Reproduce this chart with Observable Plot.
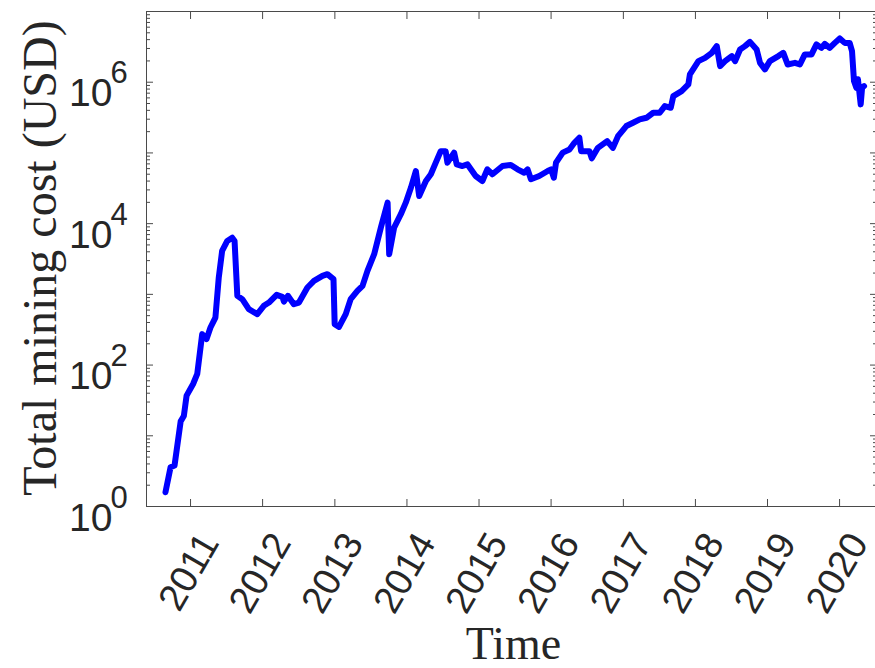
<!DOCTYPE html>
<html><head><meta charset="utf-8">
<script src="https://cdn.jsdelivr.net/npm/d3@7"></script>
<script src="https://cdn.jsdelivr.net/npm/@observablehq/plot@0.6"></script>
<style>body{margin:0;background:#fff} svg{display:block}</style>
</head><body><div id="chart"></div>
<script>
const dates = ["2010-08-27","2010-09-22","2010-10-12","2010-11-12","2010-11-28","2010-12-12","2011-01-14","2011-02-04","2011-03-01","2011-03-23","2011-04-12","2011-05-07","2011-05-24","2011-06-10","2011-07-06","2011-07-31","2011-08-12","2011-08-26","2011-09-20","2011-10-23","2011-12-05","2012-01-07","2012-02-02","2012-03-12","2012-04-10","2012-04-18","2012-05-08","2012-06-07","2012-07-03","2012-08-15","2012-09-17","2012-10-30","2012-11-24","2012-12-25","2012-12-31","2013-01-22","2013-02-25","2013-03-22","2013-04-25","2013-05-21","2013-06-15","2013-07-19","2013-08-22","2013-09-25","2013-10-03","2013-10-28","2013-12-01","2013-12-26","2014-01-21","2014-02-15","2014-03-04","2014-04-07","2014-05-02","2014-05-27","2014-06-21","2014-07-16","2014-07-25","2014-08-28","2014-09-10","2014-10-09","2014-11-03","2014-12-15","2015-01-18","2015-02-12","2015-03-10","2015-04-30","2015-06-11","2015-07-15","2015-08-18","2015-09-04","2015-09-21","2015-11-02","2015-12-15","2016-01-01","2016-01-15","2016-01-26","2016-02-29","2016-04-03","2016-04-28","2016-05-23","2016-06-01","2016-07-13","2016-07-25","2016-08-25","2016-10-11","2016-11-09","2016-12-05","2017-01-16","2017-02-19","2017-03-25","2017-04-28","2017-06-01","2017-07-04","2017-07-30","2017-08-29","2017-09-11","2017-10-23","2017-11-26","2017-12-04","2018-01-16","2018-02-19","2018-03-25","2018-04-19","2018-05-06","2018-05-31","2018-07-04","2018-07-21","2018-08-15","2018-09-09","2018-10-04","2018-11-07","2018-11-24","2018-12-19","2019-01-13","2019-02-25","2019-03-22","2019-04-13","2019-05-20","2019-06-14","2019-07-09","2019-08-12","2019-09-06","2019-10-01","2019-10-18","2019-11-12","2019-12-08","2020-01-02","2020-01-27","2020-02-21","2020-03-04","2020-03-14","2020-03-26","2020-04-03","2020-04-17","2020-04-24","2020-05-04"];
const costs = [1.59,3.6,3.8,16,19,37,54,75,274,233,340,470,1730,4110,5700,6340,5700,953,855,618,525,688,766,984,922,791,953,727,766,1250,1550,1825,1930,1640,379,347,525,855,1120,1320,2150,3700,8790,19800,3700,8790,13600,19800,32200,55500,24600,40100,49900,72800,106000,106000,72800,101000,69000,65300,69000,47200,40100,58600,49900,65300,67500,58600,52500,58600,42400,47200,55500,58600,44600,72800,101000,112000,139000,164000,106000,106000,83900,118000,147000,118000,173000,240000,267000,298000,314000,370000,370000,460000,435000,636000,748000,930000,1290000,1985000,2210000,2600000,3240000,1690000,1985000,2340000,1985000,2900000,3240000,3720000,2900000,1880000,1520000,1985000,2340000,2600000,1780000,1880000,1780000,2470000,2470000,3420000,3060000,3490000,3060000,3600000,4160000,3600000,3600000,2750000,1040000,833000,1100000,486000,833000,881000];

const yearLabels = ["2011","2012","2013","2014","2015","2016","2017","2018","2019","2020"];
const majorTicks = [1,10,100,1000,1e4,1e5,1e6,1e7];
const labelTicks = [1,100,1e4,1e6];
const labelExps = ["0","2","4","6"];
const minorMult = [2,3,4,5,6,7,8,9];

const data = dates.map((d,i)=>({date:new Date(d), cost:costs[i]}));
const yearDates = yearLabels.map(y=>new Date(y+"-01-01"));
const minorTicks = [];
majorTicks.slice(0,-1).forEach(m=>minorMult.forEach(k=>minorTicks.push(k*m)));
const labels = labelTicks.map((v,i)=>({v, e:labelExps[i]}));

const ink = "#262626", axisCol = "#4a4a4a";
const sans = "Liberation Sans, Arial, Helvetica, sans-serif";
const serif = "Liberation Serif, Times New Roman, serif";

const plot = Plot.plot({
  width: 875, height: 668,
  marginLeft: 146, marginRight: -1, marginTop: 11, marginBottom: 162,
  style: {fontFamily: sans, color: ink, background: "#fff", overflow: "visible"},
  x: {type: "utc", domain: [new Date("2010-05-23"), new Date("2020-07-06")]},
  y: {type: "log", domain: [1, 1e7]},
  marks: [
    Plot.line(data, {x: "date", y: "cost", stroke: "#0000ff", strokeWidth: 6, strokeLinejoin: "round", strokeLinecap: "round"}),
    Plot.frame({stroke: axisCol, strokeWidth: 1}),
    Plot.axisX(yearDates, {anchor: "bottom", tickSize: -7, stroke: axisCol, tickFormat: () => "", label: null}),
    Plot.axisX(yearDates, {anchor: "top", tickSize: -7, stroke: axisCol, tickFormat: () => "", label: null}),
    Plot.axisY(majorTicks, {anchor: "left", tickSize: -7, stroke: axisCol, tickFormat: () => "", label: null}),
    Plot.axisY(minorTicks, {anchor: "left", tickSize: -4, stroke: axisCol, tickFormat: () => "", label: null}),
    Plot.axisY(majorTicks, {anchor: "right", tickSize: -7, stroke: axisCol, tickFormat: () => "", label: null}),
    Plot.axisY(minorTicks, {anchor: "right", tickSize: -4, stroke: axisCol, tickFormat: () => "", label: null}),
    Plot.text(yearDates, {x: d => d, text: (d, i) => yearLabels[i], frameAnchor: "bottom", rotate: -60, textAnchor: "end", lineAnchor: "middle", dx: 19, dy: 30, fontSize: 38, fontFamily: sans, fill: ink}),
    Plot.text(labels, {y: "v", text: () => "10", frameAnchor: "left", textAnchor: "end", lineAnchor: "bottom", dx: -34, dy: 24, fontSize: 39, fontFamily: sans, fill: ink}),
    Plot.text(labels, {y: "v", text: "e", frameAnchor: "left", textAnchor: "start", lineAnchor: "bottom", dx: -36, dy: 1, fontSize: 31, fontFamily: sans, fill: ink}),
    Plot.text(["Time"], {text: d => d, frameAnchor: "bottom", textAnchor: "middle", lineAnchor: "bottom", dx: 2, dy: 152, fontSize: 46, fontFamily: serif, fill: ink}),
    Plot.text(["Total mining cost (USD)"], {text: d => d, frameAnchor: "left", textAnchor: "middle", rotate: -90, lineAnchor: "bottom", dx: -91, dy: -1, fontSize: 48, fontFamily: serif, fill: ink})
  ]
});
document.getElementById("chart").appendChild(plot);
</script>
</body></html>
